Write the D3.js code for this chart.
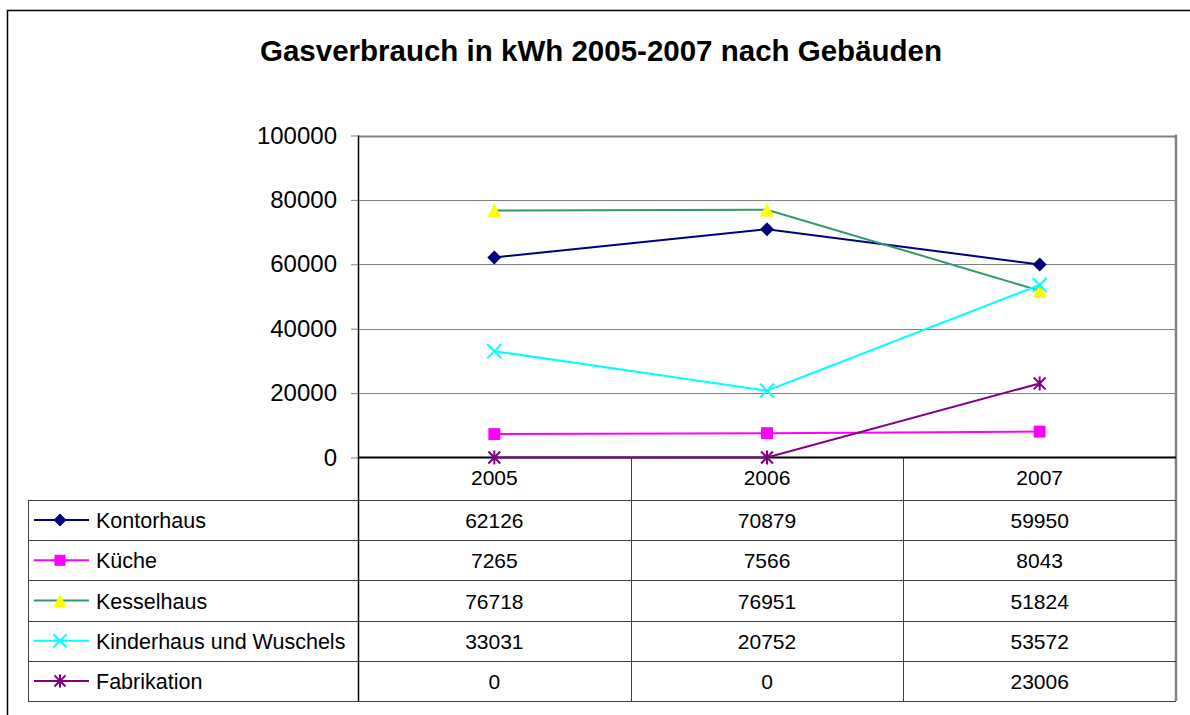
<!DOCTYPE html>
<html>
<head>
<meta charset="utf-8">
<script src="https://cdn.jsdelivr.net/npm/d3@7"></script>
<style>
  body { margin: 0; background: #fff; }
  text { font-family: "Liberation Sans", Arial, sans-serif; fill: #000; }
</style>
</head>
<body>
<div id="chart"></div>
<script>
// chart data
var years = ['2005', '2006', '2007'];
var seriesNames = ['Kontorhaus', 'Küche', 'Kesselhaus', 'Kinderhaus und Wuschels', 'Fabrikation'];
var kontorhaus = [62126, 70879, 59950];
var kueche = [7265, 7566, 8043];
var kesselhaus = [76718, 76951, 51824];
var kinderhaus = [33031, 20752, 53572];
var fabrikation = [0, 0, 23006];
var yTicks = [0, 20000, 40000, 60000, 80000, 100000];

var seriesValues = [kontorhaus, kueche, kesselhaus, kinderhaus, fabrikation];
var styles = [
  {line: '#000080', fill: '#000080', marker: 'diamond'},
  {line: '#ff00ff', fill: '#ff00ff', marker: 'square'},
  {line: '#339966', fill: '#ffff00', marker: 'triangle'},
  {line: '#00ffff', fill: '#00ffff', marker: 'x'},
  {line: '#800080', fill: '#800080', marker: 'star'}
];

var W = 1190, H = 715;
var plot = {left: 358, right: 1176, top: 135.5, bottom: 457.5};
var tableLeft = 28, rowH = 40.2, headerBottom = 500;

var svg = d3.select('#chart').append('svg')
  .attr('width', W)
  .attr('height', H);

// outer frame
svg.append('rect')
  .attr('x', 7.5).attr('y', 10.5)
  .attr('width', 1200).attr('height', 720)
  .attr('fill', 'none').attr('stroke', '#000').attr('stroke-width', 1.5);

svg.append('text')
  .attr('x', 601).attr('y', 61)
  .attr('text-anchor', 'middle')
  .style('font-size', '29.5px').style('font-weight', 'bold')
  .text('Gasverbrauch in kWh 2005-2007 nach Gebäuden');

var x = d3.scaleBand().domain(years).range([plot.left, plot.right]);
var y = d3.scaleLinear().domain([0, 100000]).range([plot.bottom, plot.top]);
var cx = function(d) { return x(d) + x.bandwidth() / 2; };

// gridlines
svg.append('g').selectAll('line')
  .data(yTicks.filter(function(t) { return t > 0; }))
  .enter().append('line')
  .attr('x1', plot.left).attr('x2', plot.right)
  .attr('y1', function(d) { return Math.round(y(d)) + 0.5; })
  .attr('y2', function(d) { return Math.round(y(d)) + 0.5; })
  .attr('stroke', '#808080').attr('stroke-width', function(d) { return d === 100000 ? 2 : 1; });

// y axis
var yAxis = svg.append('g')
  .attr('transform', 'translate(' + plot.left + ',0)')
  .call(d3.axisLeft(y).tickValues(yTicks).tickSize(7).tickPadding(14).tickFormat(d3.format('d')));
yAxis.select('.domain').remove();
yAxis.selectAll('.tick line').attr('stroke', '#808080');
yAxis.selectAll('.tick text')
  .style('font-size', '24px')
  .style('font-family', '"Liberation Sans", Arial, sans-serif');

// right border of plot
svg.append('line')
  .attr('x1', plot.right).attr('x2', plot.right)
  .attr('y1', plot.top - 1).attr('y2', 701)
  .attr('stroke', '#808080').attr('stroke-width', 2.5);

// table grid
var tableBottom = headerBottom + rowH * seriesNames.length;
var g = svg.append('g').attr('stroke', '#404040').attr('stroke-width', 1);
// column separators
x.domain().forEach(function(d, i) {
  var xx = Math.round(x(d)) + 0.5;
  g.append('line')
    .attr('x1', xx).attr('x2', xx)
    .attr('y1', i === 0 ? plot.top : plot.bottom).attr('y2', tableBottom)
    .attr('stroke', i === 0 ? '#000' : '#404040')
    .attr('stroke-width', i === 0 ? 1.5 : 1);
});
// row lines
d3.range(seriesNames.length + 1).forEach(function(i) {
  var yy = Math.round(headerBottom + rowH * i) + 0.5;
  g.append('line')
    .attr('x1', tableLeft).attr('x2', plot.right)
    .attr('y1', yy).attr('y2', yy);
});
g.append('line')
  .attr('x1', tableLeft + 0.5).attr('x2', tableLeft + 0.5)
  .attr('y1', headerBottom).attr('y2', tableBottom);

// category header labels
svg.append('g').selectAll('text')
  .data(years).enter().append('text')
  .attr('x', cx)
  .attr('y', 485)
  .attr('text-anchor', 'middle')
  .style('font-size', '21px')
  .text(function(d) { return d; });

// table values
seriesValues.forEach(function(vals, i) {
  var rowMid = headerBottom + rowH * i + rowH / 2;
  svg.append('g').selectAll('text')
    .data(vals).enter().append('text')
    .attr('x', function(d, j) { return cx(years[j]); })
    .attr('y', rowMid + 8)
    .attr('text-anchor', 'middle')
    .style('font-size', '21px')
    .text(function(d) { return d; });
});

// marker drawing
function drawMarker(sel, type, st, size) {
  var s = size;
  if (type === 'diamond') {
    sel.append('path').attr('d', 'M0,' + (-s) + 'L' + s + ',0L0,' + s + 'L' + (-s) + ',0Z')
      .attr('fill', st.fill);
  } else if (type === 'square') {
    var h = s * 0.85;
    sel.append('rect').attr('x', -h).attr('y', -h).attr('width', 2 * h).attr('height', 2 * h)
      .attr('fill', st.fill);
  } else if (type === 'triangle') {
    sel.append('path').attr('d', 'M0,' + (-s) + 'L' + s + ',' + s + 'L' + (-s) + ',' + s + 'Z')
      .attr('fill', st.fill);
  } else if (type === 'x') {
    sel.append('path').attr('d', 'M' + (-s) + ',' + (-s) + 'L' + s + ',' + s + 'M' + s + ',' + (-s) + 'L' + (-s) + ',' + s)
      .attr('stroke', st.fill).attr('stroke-width', 2).attr('fill', 'none');
  } else if (type === 'star') {
    var k = s * 0.85;
    sel.append('path').attr('d', 'M' + (-k) + ',' + (-k) + 'L' + k + ',' + k + 'M' + k + ',' + (-k) + 'L' + (-k) + ',' + k +
      'M0,' + (-s) + 'L0,' + s)
      .attr('stroke', st.fill).attr('stroke-width', 2).attr('fill', 'none');
  }
}

// zero axis line (drawn before series)
svg.append('line')
  .attr('x1', plot.left).attr('x2', plot.right)
  .attr('y1', plot.bottom).attr('y2', plot.bottom)
  .attr('stroke', '#000').attr('stroke-width', 2);

// series lines and markers
var line = d3.line()
  .x(function(d, j) { return cx(years[j]); })
  .y(function(d) { return y(d); });

seriesValues.forEach(function(vals, i) {
  var st = styles[i];
  svg.append('path')
    .datum(vals)
    .attr('d', line)
    .attr('fill', 'none')
    .attr('stroke', st.line)
    .attr('stroke-width', 2);
});
seriesValues.forEach(function(vals, i) {
  var st = styles[i];
  vals.forEach(function(v, j) {
    var m = svg.append('g').attr('transform', 'translate(' + cx(years[j]) + ',' + y(v) + ')');
    drawMarker(m, st.marker, st, 7);
  });
});

// legend keys in the table
seriesNames.forEach(function(name, i) {
  var st = styles[i];
  var rowMid = headerBottom + rowH * i + rowH / 2;
  svg.append('line')
    .attr('x1', 34).attr('x2', 89)
    .attr('y1', rowMid).attr('y2', rowMid)
    .attr('stroke', st.line).attr('stroke-width', 2);
  var m = svg.append('g').attr('transform', 'translate(60,' + rowMid + ')');
  drawMarker(m, st.marker, st, 6.5);
  svg.append('text')
    .attr('x', 96).attr('y', rowMid + 8)
    .style('font-size', '21.5px')
    .text(name);
});
</script>
</body>
</html>
